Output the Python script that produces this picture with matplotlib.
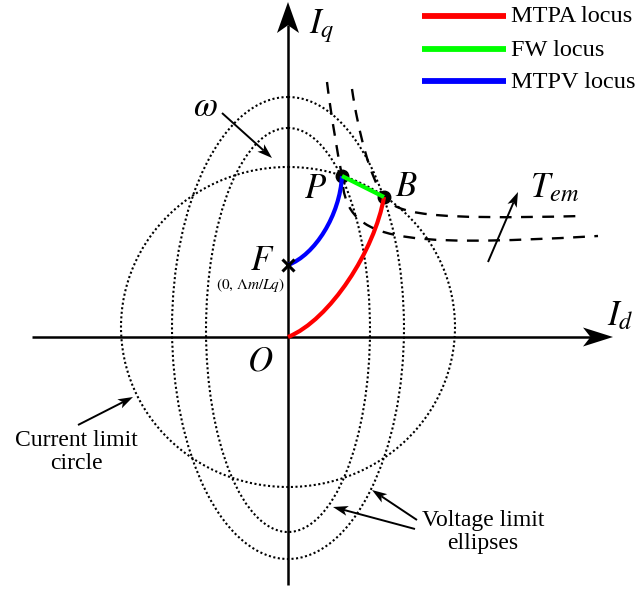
import numpy as np
import matplotlib
matplotlib.use("Agg")
import matplotlib.pyplot as plt
from matplotlib.path import Path
from matplotlib.patches import PathPatch, Ellipse, Polygon

plt.rcParams['font.family'] = ['Liberation Serif', 'DejaVu Serif']
plt.rcParams['mathtext.fontset'] = 'stix'

# drawing units are pixels, y grows downward
origin = (288, 337)
id_axis = [(32, 337), (613, 337)]
iq_axis = [(288, 585), (288, 2)]
point_F = (288, 265)
point_P = (342, 176)
point_B = (384, 197)

# centre x, centre y, width, height
current_circle = (288, 327, 334, 320)
voltage_ellipses = [(288, 330, 164, 404), (288, 328, 232, 462)]

# constant torque curves (cubic bezier control points)
torque_upper = [(352, 89), (358, 130), (370, 178), (384, 197),
                (398, 214), (425, 220), (582, 216)]
torque_lower = [(327, 82), (331, 115), (337, 150), (342, 176),
                (345, 240), (390, 248), (598, 236)]

# loci
mtpa = [(288, 337), (330, 320), (375, 250), (384, 197)]
mtpv = [(288, 265), (315, 255), (340, 215), (342, 176)]
fw = [(342, 176), (384, 197)]

legend_names = ["MTPA locus", "FW locus", "MTPV locus"]
legend_colors = ["#ff0000", "#00ff00", "#0000ff"]
legend_y = [16, 49, 81]

# annotation arrows: tail, tip
note_arrows = [((222, 113), (272, 158)),
               ((488, 262), (518, 192)),
               ((78, 425), (133, 397)),
               ((417, 520), (372, 490)),
               ((415, 529), (333, 507))]


def bezier(pts, **kw):
    codes = [Path.MOVETO] + [Path.CURVE4] * (len(pts) - 1)
    return PathPatch(Path(pts, codes), fill=False, **kw)


def arrow(ax, tail, tip, hl, hw, lw):
    tail = np.array(tail, float)
    tip = np.array(tip, float)
    d = (tip - tail) / np.hypot(*(tip - tail))
    n = np.array([-d[1], d[0]])
    base = tip - d * hl
    notch = tip - d * hl * 0.75
    ax.plot([tail[0], notch[0]], [tail[1], notch[1]], color='k', lw=lw,
            solid_capstyle='butt')
    head = [tip, base + n * hw / 2, notch, base - n * hw / 2]
    ax.add_patch(Polygon(head, closed=True, color='k', lw=0))


fig = plt.figure(figsize=(6.36, 5.92), dpi=100)
ax = fig.add_axes([0, 0, 1, 1])
ax.set_xlim(0, 636)
ax.set_ylim(592, 0)
ax.axis('off')

# axes with arrow heads
arrow(ax, id_axis[0], id_axis[1], 30, 19, 1.8)
arrow(ax, iq_axis[0], iq_axis[1], 31, 22, 1.8)

dots = dict(color='k', lw=1.5, linestyle=(0, (1, 1.2)))
cx, cy, w, h = current_circle
ax.add_patch(Ellipse((cx, cy), w, h, fill=False, **dots))
for cx, cy, w, h in voltage_ellipses:
    ax.add_patch(Ellipse((cx, cy), w, h, fill=False, **dots))

for pts in (torque_upper, torque_lower):
    ax.add_patch(bezier(pts, color='k', lw=1.7, linestyle=(0, (5, 4))))

ax.plot(*zip(point_P, point_B), 'o', color='k', ms=9, zorder=4)
ax.add_patch(bezier(mtpa, color=legend_colors[0], lw=3, zorder=5))
ax.add_patch(bezier(mtpv, color=legend_colors[2], lw=3, zorder=5))
ax.plot(*zip(*fw), color=legend_colors[1], lw=3, zorder=5,
        solid_capstyle='butt')
ax.plot(*point_F, 'x', color='k', ms=8, mew=2.2, zorder=6)

for tail, tip in note_arrows:
    arrow(ax, tail, tip, 15, 10, 1.4)

# legend
for name, col, y in zip(legend_names, legend_colors, legend_y):
    ax.plot([422, 506], [y, y], color=col, lw=4.2, solid_capstyle='butt')
    ax.text(511, y + 1, name, fontsize=17.5, ha='left', va='center')

big = 25
ax.text(309, 33, r'$I_q$', fontsize=big, ha='left', va='baseline')
ax.text(607, 325, r'$I_d$', fontsize=big, ha='left', va='baseline')
ax.text(260, 362, r'$O$', fontsize=big, ha='center', va='center')
ax.text(316, 190, r'$P$', fontsize=big, ha='center', va='center')
ax.text(406, 188, r'$B$', fontsize=big, ha='center', va='center')
ax.text(262, 262, r'$F$', fontsize=big, ha='center', va='center')
ax.text(250, 285, r'$(0,\,\Lambda m/Lq)$', fontsize=11,
        ha='center', va='center')
ax.text(205, 108, r'$\omega$', fontsize=big, ha='center', va='center')
ax.text(530, 197, r'$T_{em}$', fontsize=big, ha='left', va='baseline')

ax.text(76, 452, "Current limit\ncircle", fontsize=17, ha='center',
        va='center', linespacing=1.15)
ax.text(483, 532, "Voltage limit\nellipses", fontsize=17, ha='center',
        va='center', linespacing=1.15)

fig.savefig("out.png", dpi=100)
